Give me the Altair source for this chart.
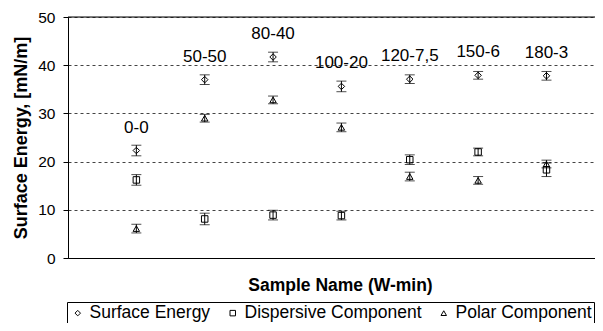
import altair as alt
import pandas as pd

samples = ["0-0", "50-50", "80-40", "100-20", "120-7,5", "150-6", "180-3"]
surface = [22.3, 37.0, 41.7, 35.6, 37.1, 37.9, 37.8]
surface_err = [1.1, 1.0, 1.0, 1.1, 0.9, 0.8, 0.9]
dispersive = [16.2, 8.1, 8.9, 8.8, 20.4, 22.0, 18.3]
dispersive_err = [1.1, 1.2, 1.0, 0.9, 1.0, 0.8, 1.4]
polar = [6.1, 29.0, 32.8, 27.1, 16.9, 16.1, 19.5]
polar_err = [0.9, 0.8, 0.8, 0.9, 0.9, 0.8, 0.8]
series_names = ["Surface Energy", "Dispersive Component", "Polar Component"]
y_ticks = [0, 10, 20, 30, 40, 50]

rows = []
for name, vals, errs in zip(series_names, [surface, dispersive, polar],
                            [surface_err, dispersive_err, polar_err]):
    for i, (s, v, e) in enumerate(zip(samples, vals, errs)):
        rows.append({"sample": s, "idx": i + 1, "series": name,
                     "value": v, "lo": v - e, "hi": v + e})
df = pd.DataFrame(rows)
lab = pd.DataFrame({"sample": samples, "idx": list(range(1, len(samples) + 1)),
                    "value": surface})
frame = pd.DataFrame({"x0": [0], "x1": [7.71], "y0": [0], "y1": [50]})

FONT = "Liberation Sans"
xs = alt.Scale(domain=[0, 7.71], nice=False, zero=False)
ys = alt.Scale(domain=[0, 50], nice=False)

xenc = alt.X("idx:Q", scale=xs, axis=alt.Axis(
    title="Sample Name (W-min)", labels=False, ticks=False, grid=False,
    domainColor="black", titleFont=FONT, titleFontSize=17.5, titleFontWeight="bold",
    titleColor="black", titleX=272, titleY=27, titleBaseline="middle", titleAlign="center"))
yaxis = alt.Axis(title="Surface Energy, [mN/m]", values=y_ticks, grid=True,
                 gridDash=[3, 3], gridColor="#444", gridWidth=1,
                 domainColor="black", tickColor="black", tickSize=5,
                 labelFont=FONT, labelFontSize=15.5, labelColor="black", labelPadding=8,
                 titleFont=FONT, titleFontSize=18, titleFontWeight="bold",
                 titleColor="black", titlePadding=7)

base = alt.Chart(df)

points = base.mark_point(filled=False, size=42, strokeWidth=1, opacity=1).encode(
    x=xenc,
    y=alt.Y("value:Q", scale=ys, axis=yaxis),
    shape=alt.Shape("series:N", sort=series_names,
                    scale=alt.Scale(domain=series_names,
                                    range=["diamond", "square", "triangle-up"]),
                    legend=alt.Legend(title=None,
                                      orient="none", legendX=-1, legendY=285,
                                      direction="horizontal", strokeColor="black",
                                      fillColor="white", padding=2, cornerRadius=0,
                                      labelFont=FONT, labelFontSize=17.5, labelColor="black",
                                      symbolSize=30, symbolStrokeColor="black",
                                      symbolFillColor="transparent", symbolStrokeWidth=1,
                                      columnPadding=13, labelOffset=3, labelLimit=400)),
    color=alt.value("black"),
)

bars = base.mark_rule(color="black", strokeWidth=1).encode(
    x="idx:Q", y="lo:Q", y2="hi:Q")
cap_lo = base.mark_tick(color="black", orient="horizontal", size=10, thickness=1).encode(
    x="idx:Q", y="lo:Q")
cap_hi = base.mark_tick(color="black", orient="horizontal", size=10, thickness=1).encode(
    x="idx:Q", y="hi:Q")

labels = alt.Chart(lab).mark_text(font=FONT, fontSize=17, dy=-23, color="black").encode(
    x="idx:Q", y="value:Q", text="sample:N")

top = alt.Chart(frame).mark_rule(color="black", strokeWidth=1).encode(
    x=alt.X("x0:Q", scale=xs), x2="x1:Q", y=alt.Y("y1:Q", scale=ys))

chart = alt.layer(bars, cap_lo, cap_hi, top, points, labels).properties(
    width=527, height=241,
    autosize=alt.AutoSizeParams(type="none"),
    padding={"left": 60, "top": 9, "right": 0, "bottom": 65},
).configure_view(stroke=None).configure(background="white")

chart.save("out.html", embed_options={"renderer": "svg", "actions": False})
